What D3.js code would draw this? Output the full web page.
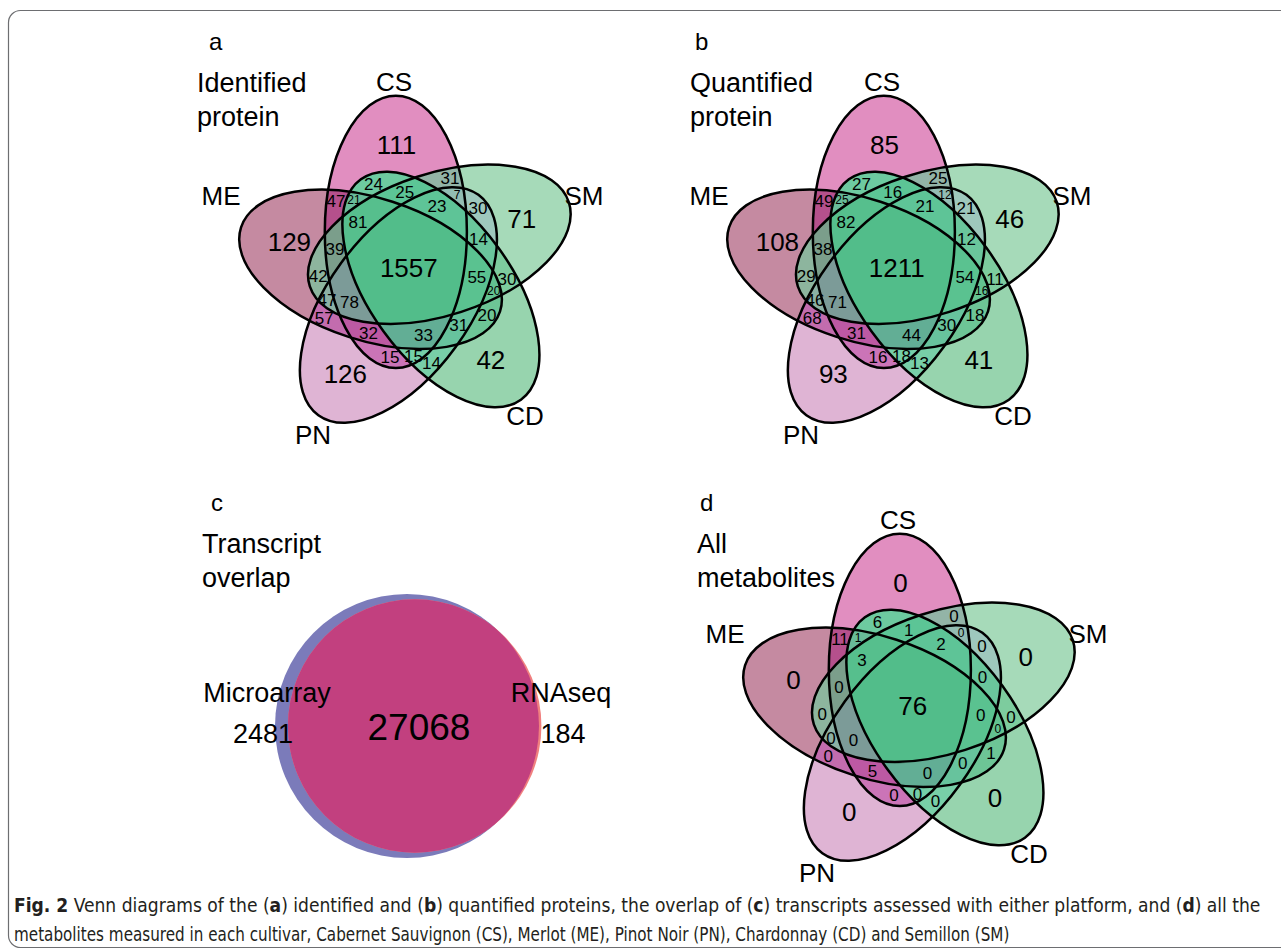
<!DOCTYPE html>
<html>
<head>
<meta charset="utf-8">
<script src="https://cdn.jsdelivr.net/npm/d3@7"></script>
<style>
  body { margin: 0; background: #fff; }
  svg text { font-family: "Liberation Sans", Arial, sans-serif; fill: #000; }
</style>
</head>
<body>
<div id="figure"></div>
<script>
// cultivars, clockwise from the top lobe
const setNames = ["CS", "SM", "CD", "PN", "ME"];

// every region of the five-set diagram, listed by the sets it belongs to
const regionSets = [
  ["CS"], ["SM"], ["CD"], ["PN"], ["ME"],
  ["CS", "SM"], ["CS", "CD"], ["CS", "PN"], ["CS", "ME"], ["SM", "CD"],
  ["SM", "PN"], ["SM", "ME"], ["CD", "PN"], ["CD", "ME"], ["PN", "ME"],
  ["CS", "SM", "CD"], ["CS", "SM", "PN"], ["CS", "SM", "ME"], ["CS", "CD", "PN"], ["CS", "CD", "ME"],
  ["CS", "PN", "ME"], ["SM", "CD", "PN"], ["SM", "CD", "ME"], ["SM", "PN", "ME"], ["CD", "PN", "ME"],
  ["CS", "SM", "CD", "PN"], ["CS", "SM", "CD", "ME"], ["CS", "SM", "PN", "ME"], ["CS", "CD", "PN", "ME"], ["SM", "CD", "PN", "ME"],
  ["CS", "SM", "CD", "PN", "ME"]
];

const identifiedCounts = [111, 71, 42, 126, 129,
  31, 24, 15, 47, 30, 30, 42, 14, 20, 57,
  25, 7, 39, 15, 21, 32, 14, 20, 47, 31,
  23, 81, 78, 33, 55, 1557];
const quantifiedCounts = [85, 46, 41, 93, 108,
  25, 27, 16, 49, 11, 21, 29, 13, 18, 68,
  16, 12, 38, 18, 25, 31, 12, 16, 46, 30,
  21, 82, 71, 44, 54, 1211];
const metaboliteCounts = [0, 0, 0, 0, 0,
  0, 6, 0, 11, 0, 0, 0, 0, 1, 0,
  1, 0, 0, 0, 1, 5, 0, 0, 0, 0,
  2, 3, 0, 0, 0, 76];

// transcripts: only microarray, only RNAseq, both
const transcriptLabels = ["Microarray", "RNAseq"];
const transcriptCounts = [2481, 184, 27068];

// region fill colours, same order as regionSets
const regionColors = [
  "#e18ec0", "#a6dab9", "#97d4ae", "#dfb4d4", "#c58aa1",
  "#93b4a7", "#6dcaa0", "#cb74b7", "#b5508c", "#7dcc9e",
  "#9ec8bd", "#8db59e", "#78cfa8", "#6dc596", "#c36cae",
  "#5cc596", "#93bdb3", "#7b9e8b", "#75cfa8", "#68bb98",
  "#bd59a3", "#6ac69c", "#62c290", "#8cb1a5", "#67c39d",
  "#5ec497", "#56bf8d", "#7c9b98", "#62ae95", "#5ac290",
  "#52bd8a"
];

const width = 1281, height = 952;
const svg = d3.select("#figure").append("svg")
    .attr("width", width)
    .attr("height", height);
const defs = svg.append("defs");

// figure frame
svg.append("rect")
    .attr("x", 8.5).attr("y", 10.5)
    .attr("width", 1300).attr("height", 937)
    .attr("rx", 12)
    .attr("fill", "none")
    .attr("stroke", "#6d6e71")
    .attr("stroke-width", 1.2);

// quintuple ellipse layout (VennDiagram style, in unit coordinates)
const unit = d3.scaleLinear().domain([0, 1]).range([0, 296]);
const semiMajor = unit(0.46), semiMinor = unit(0.24), offset = unit(0.13);
const rad = d => d * Math.PI / 180;
const catOffsets = {CS: [-15, -177], SM: [175, -63], CD: [116, 157], PN: [-96, 176], ME: [-188, -63]};

function ellipsesAt(cx, cy) {
  return setNames.map((name, k) => {
    const axis = -90 + 72 * k;
    return {
      name, bit: 1 << k, angle: axis,
      x: cx + offset * Math.cos(rad(axis - 20)),
      y: cy + offset * Math.sin(rad(axis - 20))
    };
  });
}

function inside(e, x, y) {
  const dx = x - e.x, dy = y - e.y;
  const c = Math.cos(rad(e.angle)), s = Math.sin(rad(e.angle));
  const u = dx * c + dy * s, v = -dx * s + dy * c;
  return (u / semiMajor) ** 2 + (v / semiMinor) ** 2 <= 1;
}

// deepest point of each region, found with a distance transform on a pixel grid
function regionSpots(ells, cx, cy) {
  const R = 190, W = 2 * R + 1, n = W * W;
  const code = new Int32Array(n);
  for (let j = 0; j < W; j++) for (let i = 0; i < W; i++) {
    let c = 0;
    for (const e of ells) if (inside(e, cx - R + i, cy - R + j)) c |= e.bit;
    code[j * W + i] = c;
  }
  const dist = new Float32Array(n);
  for (let j = 0; j < W; j++) for (let i = 0; i < W; i++) {
    const p = j * W + i, c = code[p];
    const edge = i === 0 || j === 0 || i === W - 1 || j === W - 1 ||
      code[p - 1] !== c || code[p + 1] !== c || code[p - W] !== c || code[p + W] !== c;
    dist[p] = edge ? 0 : 1e6;
  }
  const r2 = Math.SQRT2;
  for (let j = 1; j < W - 1; j++) for (let i = 1; i < W - 1; i++) {
    const p = j * W + i;
    dist[p] = Math.min(dist[p], dist[p - 1] + 1, dist[p - W] + 1, dist[p - W - 1] + r2, dist[p - W + 1] + r2);
  }
  for (let j = W - 2; j > 0; j--) for (let i = W - 2; i > 0; i--) {
    const p = j * W + i;
    dist[p] = Math.min(dist[p], dist[p + 1] + 1, dist[p + W] + 1, dist[p + W + 1] + r2, dist[p + W - 1] + r2);
  }
  const maxD = {};
  for (let p = 0; p < n; p++) if (code[p]) maxD[code[p]] = Math.max(maxD[code[p]] || 0, dist[p]);
  const acc = {};
  for (let p = 0; p < n; p++) {
    const c = code[p];
    if (!c || dist[p] < maxD[c] - 0.5) continue;
    const a = acc[c] || (acc[c] = {x: 0, y: 0, k: 0});
    a.x += p % W; a.y += Math.floor(p / W); a.k++;
  }
  const spots = {};
  for (const c in acc) {
    spots[c] = {x: cx - R + acc[c].x / acc[c].k, y: cy - R + acc[c].y / acc[c].k, d: maxD[c]};
  }
  return spots;
}

const fontFor = d => d >= 20 ? 26 : d >= 6.5 ? 17 : 12;
const ellipseTransform = e => `translate(${e.x},${e.y}) rotate(${e.angle})`;

function drawFive(p, idx) {
  const g = svg.append("g");
  const ells = ellipsesAt(p.cx, p.cy);
  const byName = Object.fromEntries(ells.map(e => [e.name, e]));

  ells.forEach(e => {
    defs.append("clipPath").attr("id", `clip${idx}${e.name}`)
      .append("ellipse")
        .attr("rx", semiMajor).attr("ry", semiMinor)
        .attr("transform", ellipseTransform(e));
  });

  // each region: clipped to its own sets, masked by the others
  regionSets.forEach((s, i) => {
    const maskId = `mask${idx}_${i}`;
    const m = defs.append("mask").attr("id", maskId)
        .attr("maskUnits", "userSpaceOnUse")
        .attr("x", 0).attr("y", 0).attr("width", width).attr("height", height);
    m.append("rect").attr("width", width).attr("height", height).attr("fill", "#fff");
    setNames.filter(nm => !s.includes(nm)).forEach(nm => {
      m.append("ellipse")
        .attr("rx", semiMajor).attr("ry", semiMinor)
        .attr("transform", ellipseTransform(byName[nm]))
        .attr("fill", "#000");
    });
    let node = g.append("g").attr("mask", `url(#${maskId})`);
    s.forEach(nm => { node = node.append("g").attr("clip-path", `url(#clip${idx}${nm})`); });
    node.append("rect")
      .attr("x", p.cx - 200).attr("y", p.cy - 200)
      .attr("width", 400).attr("height", 400)
      .attr("fill", regionColors[i]);
  });

  g.selectAll("ellipse.line")
    .data(ells)
    .join("ellipse")
      .attr("class", "line")
      .attr("rx", semiMajor).attr("ry", semiMinor)
      .attr("transform", ellipseTransform)
      .attr("fill", "none")
      .attr("stroke", "#000")
      .attr("stroke-width", 2.5);

  const spots = regionSpots(ells, p.cx, p.cy);
  const labels = regionSets.map((s, i) => {
    const code = s.reduce((c, nm) => c | (1 << setNames.indexOf(nm)), 0);
    const sp = spots[code];
    // outer lobes: pull the number a little toward the middle
    const k = s.length === 1 ? 0.92 : 1;
    return {value: p.counts[i], x: p.cx + k * (sp.x - p.cx), y: p.cy + k * (sp.y - p.cy), d: sp.d};
  });

  g.selectAll("text.count")
    .data(labels)
    .join("text")
      .attr("class", "count")
      .attr("x", d => d.x)
      .attr("y", d => d.y)
      .attr("text-anchor", "middle")
      .attr("dy", "0.36em")
      .attr("font-size", d => fontFor(d.d))
      .text(d => d.value);

  g.selectAll("text.cat")
    .data(setNames)
    .join("text")
      .attr("class", "cat")
      .attr("x", nm => p.cx + catOffsets[nm][0])
      .attr("y", nm => p.cy + catOffsets[nm][1])
      .attr("text-anchor", "middle")
      .attr("font-size", 26)
      .text(nm => nm);
}

function drawTitle(letter, lines, lx, ly, tx, ty) {
  svg.append("text").attr("x", lx).attr("y", ly).attr("font-size", 24).text(letter);
  lines.forEach((t, i) => {
    svg.append("text").attr("x", tx).attr("y", ty + i * 34).attr("font-size", 27).text(t);
  });
}

const panels = [
  {letter: "a", title: ["Identified", "protein"], counts: identifiedCounts, cx: 409, cy: 268, lx: 209, ly: 50, tx: 197, ty: 92},
  {letter: "b", title: ["Quantified", "protein"], counts: quantifiedCounts, cx: 897, cy: 268, lx: 695, ly: 50, tx: 690, ty: 92},
  {letter: "d", title: ["All", "metabolites"], counts: metaboliteCounts, cx: 913, cy: 706, lx: 700, ly: 511, tx: 697, ty: 553}
];
panels.forEach((p, i) => {
  drawFive(p, i);
  drawTitle(p.letter, p.title, p.lx, p.ly, p.tx, p.ty);
});

// panel c: area-proportional two-circle diagram
drawTitle("c", ["Transcript", "overlap"], 211, 511, 202, 553);
const totalA = transcriptCounts[0] + transcriptCounts[2];
const totalB = transcriptCounts[1] + transcriptCounts[2];
const rScale = d3.scaleSqrt().domain([0, totalA]).range([0, 132]);
const rA = rScale(totalA), rB = rScale(totalB);

function lensArea(r1, r2, d) {
  if (d >= r1 + r2) return 0;
  if (d <= Math.abs(r1 - r2)) return Math.PI * Math.min(r1, r2) ** 2;
  const a1 = r1 * r1 * Math.acos((d * d + r1 * r1 - r2 * r2) / (2 * d * r1));
  const a2 = r2 * r2 * Math.acos((d * d + r2 * r2 - r1 * r1) / (2 * d * r2));
  const k = 0.5 * Math.sqrt((-d + r1 + r2) * (d + r1 - r2) * (d - r1 + r2) * (d + r1 + r2));
  return a1 + a2 - k;
}
const target = Math.PI * rScale(transcriptCounts[2]) ** 2;
let lo = Math.abs(rA - rB), hi = rA + rB;
for (let i = 0; i < 60; i++) {
  const mid = (lo + hi) / 2;
  if (lensArea(rA, rB, mid) > target) lo = mid; else hi = mid;
}
const sep = (lo + hi) / 2;
const cA = [407, 726], cB = [407 + sep, 726];

const cg = svg.append("g");
cg.append("clipPath").attr("id", "clipA")
  .append("circle").attr("cx", cA[0]).attr("cy", cA[1]).attr("r", rA);
cg.append("circle").attr("cx", cA[0]).attr("cy", cA[1]).attr("r", rA).attr("fill", "#7b7bba");
cg.append("circle").attr("cx", cB[0]).attr("cy", cB[1]).attr("r", rB).attr("fill", "#f0807f");
cg.append("circle").attr("cx", cB[0]).attr("cy", cB[1]).attr("r", rB).attr("fill", "#c2407f")
  .attr("clip-path", "url(#clipA)");

const cText = [
  {t: transcriptLabels[0], x: 267, y: 702, s: 27},
  {t: transcriptCounts[0], x: 263, y: 743, s: 27},
  {t: transcriptLabels[1], x: 561, y: 702, s: 27},
  {t: transcriptCounts[1], x: 563, y: 743, s: 27},
  {t: transcriptCounts[2], x: 419, y: 740, s: 37}
];
cg.selectAll("text")
  .data(cText)
  .join("text")
    .attr("x", d => d.x).attr("y", d => d.y)
    .attr("text-anchor", "middle")
    .attr("font-size", d => d.s)
    .text(d => d.t);

// caption
const captionLines = [
  [["Fig. 2", true], [" Venn diagrams of the (", false], ["a", true], [") identified and (", false], ["b", true],
   [") quantified proteins, the overlap of (", false], ["c", true], [") transcripts assessed with either platform, and (", false],
   ["d", true], [") all the", false]],
  [["metabolites measured in each cultivar, Cabernet Sauvignon (CS), Merlot (ME), Pinot Noir (PN), Chardonnay (CD) and Semillon (SM)", false]]
];
const captionWidths = [1248, 996];
captionLines.forEach((parts, i) => {
  const t = svg.append("text")
      .attr("font-size", 19)
      .style("font-family", "'DejaVu Sans Condensed', 'Liberation Sans Narrow', 'Open Sans', sans-serif")
      .style("font-stretch", "condensed")
      .style("fill", "#231f20");
  parts.forEach(([s, bold]) => t.append("tspan").attr("font-weight", bold ? "bold" : "normal").text(s));
  const natural = t.node().getComputedTextLength();
  t.attr("transform", `translate(14,${912 + i * 29}) scale(${captionWidths[i] / natural},1)`);
});
</script>
</body>
</html>
